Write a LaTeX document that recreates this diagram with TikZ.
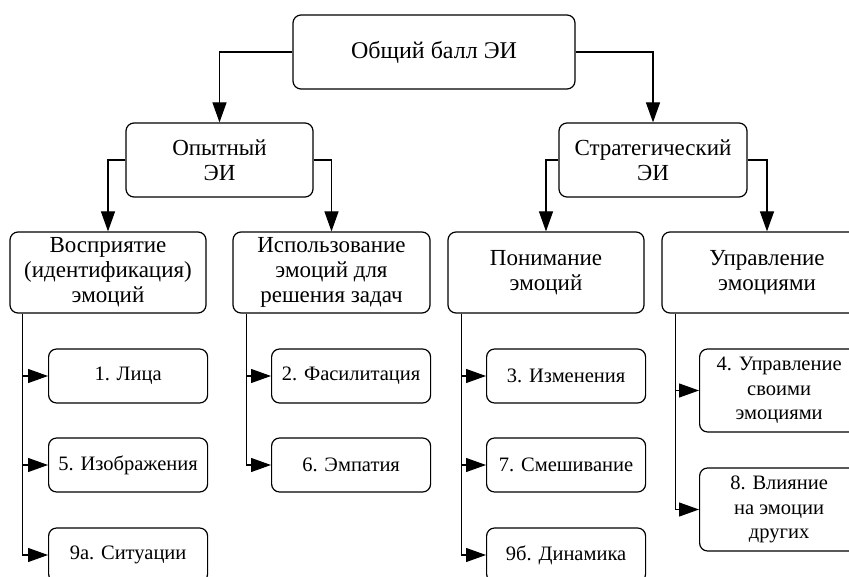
\documentclass[tikz,border=0pt]{standalone}
\usepackage{fontspec}
\setmainfont{Liberation Serif}
\usetikzlibrary{positioning,calc}
\usetikzlibrary{shapes.geometric, arrows.meta}
\tikzset{
  bx/.style={rectangle, rounded corners=8pt, draw=black, line width=1.2pt, align=center, text centered, inner sep=1pt, font=\fontsize{23}{25}\selectfont},
  hd/.style={bx, minimum height=74pt},
  gr/.style={bx, minimum height=81pt},
  lf/.style={bx, anchor=west, minimum width=159pt, minimum height=54pt, font=\fontsize{20.5}{24.5}\selectfont},
  lft/.style={lf, minimum height=83pt},
  ln/.style={line width=1.2pt}
}
\begin{document}
\begin{tikzpicture}[x=1pt,y=-1pt,>={Triangle[length=20pt,width=14pt]}]
	\clip (0,0) rectangle (849,577);
	\node[hd, minimum width=282pt, font=\fontsize{24}{25}\selectfont] (total) at (434,52) {Общий балл ЭИ};
	\node[hd, minimum width=187pt] (exp) at (219.5,160) {Опытный\\ЭИ};
	\node[hd, minimum width=188pt] (strat) at (653,160) {Стратегический\\ЭИ};
	\node[gr, minimum width=196pt] (perc) at (108,272.5) {Восприятие\\(идентификация)\\эмоций};
	\node[gr, minimum width=197pt] (use) at (331.5,272.5) {Использование\\эмоций для\\решения задач};
	\node[gr, minimum width=196pt] (und) at (546,272.5) {Понимание\\эмоций};
	\node[gr, minimum width=210pt] (man) at (767,272.5) {Управление\\эмоциями};
	%
	\node[lf] (faces) at (48,376) {1. Лица};
	\node[lf] (pics) at (48,465) {5. Изображения};
	\node[lf] (sit) at (48,555) {9а. Ситуации};
	\node[lf] (fac) at (271,376) {2. Фасилитация};
	\node[lf] (emp) at (271,465) {6. Эмпатия};
	\node[lf] (chg) at (486,376) {3. Изменения};
	\node[lf] (mix) at (486,465) {7. Смешивание};
	\node[lf] (dyn) at (486,555) {9б. Динамика};
	\node[lft] (self) at (699,390.5) {4. Управление\\своими\\эмоциями};
	\node[lft] (oth) at (699,509.5) {8. Влияние\\на эмоции\\других};
	%
	\draw[ln,->] (total.west) -| (exp.north);
	\draw[ln,->] (total.east) -| (strat.north);
	\draw[ln,->] (exp.west) -| (perc.north);
	\draw[ln,->] (exp.east) -| (use.north);
	\draw[ln,->] (strat.west) -| (und.north);
	\draw[ln,->] (strat.east) -| (man.north);
	%
	\coordinate (t1) at ($(perc.south west)+(13,0)$);
	\coordinate (t2) at ($(use.south west)+(14,0)$);
	\coordinate (t3) at ($(und.south west)+(14,0)$);
	\coordinate (t4) at ($(man.south west)+(14,0)$);
	\draw[ln,->] (t1) |- (faces.west);
	\draw[ln,->] (t1) |- (pics.west);
	\draw[ln,->] (t1) |- (sit.west);
	\draw[ln,->] (t2) |- (fac.west);
	\draw[ln,->] (t2) |- (emp.west);
	\draw[ln,->] (t3) |- (chg.west);
	\draw[ln,->] (t3) |- (mix.west);
	\draw[ln,->] (t3) |- (dyn.west);
	\draw[ln,->] (t4) |- (self.west);
	\draw[ln,->] (t4) |- (oth.west);
\end{tikzpicture}
\end{document}
